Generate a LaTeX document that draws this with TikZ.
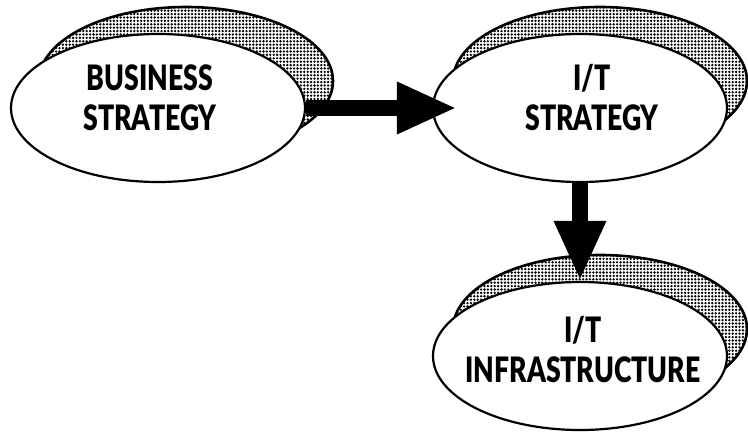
\documentclass[tikz,border=0pt]{standalone}
\usepackage{fontspec}
\newfontfamily\labelfont[FakeStretch=0.76]{Lato Black}
\usetikzlibrary{shapes.geometric,arrows.meta,patterns}
% coarse halftone screen for the raised backing ovals
\pgfdeclarepatternformonly{halftone}{\pgfqpoint{-1pt}{-1pt}}{\pgfqpoint{4.4pt}{4.4pt}}{\pgfqpoint{3.4pt}{3.4pt}}{%
  \pgfpathcircle{\pgfqpoint{1.7pt}{1.7pt}}{1.3pt}\pgfusepath{fill}}
\newcommand{\capstyle}{\fontsize{35}{40}\selectfont\labelfont}
\begin{document}
\begin{tikzpicture}[x=1pt,y=-1pt,
  backoval/.style={ellipse, draw, line width=2.6pt, pattern=halftone,
    minimum width=294pt, minimum height=148pt, inner sep=0pt},
  oval/.style={ellipse, draw, line width=2.2pt, fill=white,
    minimum width=294pt, minimum height=148pt, inner sep=0pt},
  caption/.style={font=\capstyle, align=center, inner sep=0pt},
  bigarrow/.style={line width=16pt, -{Triangle[length=60pt,width=48pt]}}]
\useasboundingbox (0,0) rectangle (748,434);

% backing ovals
\node[backoval] (bsB)  at (186,81)  {};
\node[backoval] (itsB) at (600,81)  {};
\node[backoval] (infB) at (600,329) {};

% front ovals
\node[oval] (bs)  at (158,108) {};
\node[oval] (its) at (580,108) {};
\node[oval] (inf) at (580,356) {};

% labels
\node[caption] (bsT)  at (150,98)  {BUSINESS\\STRATEGY};
\node[caption] (itsT) at (592,98)  {I/T\\STRATEGY};
\node[caption] (infT) at (583,350) {I/T\\INFRASTRUCTURE};

% flow arrows
\draw[bigarrow] (bs.east) -- ([xshift=25pt]its.west);
\draw[bigarrow] (its.south) -- (inf.north);
\end{tikzpicture}
\end{document}
